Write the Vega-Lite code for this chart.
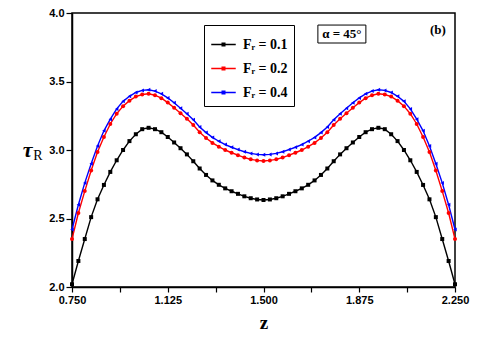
{
  "$schema": "https://vega.github.io/schema/vega-lite/v6.json",
  "width": 383,
  "height": 274,
  "autosize": "none",
  "padding": {"left": 72, "top": 13, "right": 25, "bottom": 54},
  "background": "white",
  "config": {
    "view": {"stroke": "black", "strokeWidth": 1.5},
    "axis": {"grid": false, "domainColor": "black", "domainWidth": 1.5, "tickColor": "black", "tickWidth": 1.2,
      "labelFont": "Liberation Sans", "labelFontWeight": "bold", "labelFontSize": 11, "labelColor": "black",
      "labelFlush": false, "labelOverlap": false}
  },
  "datasets": {
    "curves": [
      {"z": 0.75, "a": 2.02, "b": 2.35, "c": 2.42},
      {"z": 0.775, "a": 2.19, "b": 2.54, "c": 2.60},
      {"z": 0.8, "a": 2.35, "b": 2.70, "c": 2.76},
      {"z": 0.825, "a": 2.51, "b": 2.85, "c": 2.90},
      {"z": 0.85, "a": 2.64, "b": 2.985, "c": 3.03},
      {"z": 0.875, "a": 2.745, "b": 3.095, "c": 3.14},
      {"z": 0.9, "a": 2.84, "b": 3.19, "c": 3.225},
      {"z": 0.925, "a": 2.925, "b": 3.265, "c": 3.30},
      {"z": 0.95, "a": 3.00, "b": 3.32, "c": 3.355},
      {"z": 0.975, "a": 3.065, "b": 3.36, "c": 3.392},
      {"z": 1.0, "a": 3.115, "b": 3.39, "c": 3.42},
      {"z": 1.025, "a": 3.152, "b": 3.405, "c": 3.435},
      {"z": 1.05, "a": 3.162, "b": 3.41, "c": 3.44},
      {"z": 1.075, "a": 3.152, "b": 3.40, "c": 3.43},
      {"z": 1.1, "a": 3.13, "b": 3.378, "c": 3.41},
      {"z": 1.125, "a": 3.095, "b": 3.346, "c": 3.38},
      {"z": 1.15, "a": 3.055, "b": 3.308, "c": 3.345},
      {"z": 1.175, "a": 3.013, "b": 3.268, "c": 3.305},
      {"z": 1.2, "a": 2.968, "b": 3.228, "c": 3.265},
      {"z": 1.225, "a": 2.918, "b": 3.183, "c": 3.22},
      {"z": 1.25, "a": 2.865, "b": 3.13, "c": 3.168},
      {"z": 1.275, "a": 2.818, "b": 3.088, "c": 3.127},
      {"z": 1.3, "a": 2.778, "b": 3.052, "c": 3.092},
      {"z": 1.325, "a": 2.746, "b": 3.024, "c": 3.064},
      {"z": 1.35, "a": 2.72, "b": 3.0, "c": 3.04},
      {"z": 1.375, "a": 2.699, "b": 2.98, "c": 3.02},
      {"z": 1.4, "a": 2.68, "b": 2.962, "c": 3.003},
      {"z": 1.425, "a": 2.662, "b": 2.945, "c": 2.987},
      {"z": 1.45, "a": 2.648, "b": 2.932, "c": 2.975},
      {"z": 1.475, "a": 2.639, "b": 2.924, "c": 2.968},
      {"z": 1.5, "a": 2.635, "b": 2.92, "c": 2.965},
      {"z": 1.525, "a": 2.639, "b": 2.924, "c": 2.968},
      {"z": 1.55, "a": 2.648, "b": 2.932, "c": 2.975},
      {"z": 1.575, "a": 2.662, "b": 2.945, "c": 2.987},
      {"z": 1.6, "a": 2.68, "b": 2.962, "c": 3.003},
      {"z": 1.625, "a": 2.699, "b": 2.98, "c": 3.02},
      {"z": 1.65, "a": 2.72, "b": 3.0, "c": 3.04},
      {"z": 1.675, "a": 2.746, "b": 3.024, "c": 3.064},
      {"z": 1.7, "a": 2.778, "b": 3.052, "c": 3.092},
      {"z": 1.725, "a": 2.818, "b": 3.088, "c": 3.127},
      {"z": 1.75, "a": 2.865, "b": 3.13, "c": 3.168},
      {"z": 1.775, "a": 2.918, "b": 3.183, "c": 3.22},
      {"z": 1.8, "a": 2.968, "b": 3.228, "c": 3.265},
      {"z": 1.825, "a": 3.013, "b": 3.268, "c": 3.305},
      {"z": 1.85, "a": 3.055, "b": 3.308, "c": 3.345},
      {"z": 1.875, "a": 3.095, "b": 3.346, "c": 3.38},
      {"z": 1.9, "a": 3.13, "b": 3.378, "c": 3.41},
      {"z": 1.925, "a": 3.152, "b": 3.40, "c": 3.43},
      {"z": 1.95, "a": 3.162, "b": 3.41, "c": 3.44},
      {"z": 1.975, "a": 3.152, "b": 3.405, "c": 3.435},
      {"z": 2.0, "a": 3.115, "b": 3.39, "c": 3.42},
      {"z": 2.025, "a": 3.065, "b": 3.36, "c": 3.392},
      {"z": 2.05, "a": 3.00, "b": 3.32, "c": 3.355},
      {"z": 2.075, "a": 2.925, "b": 3.265, "c": 3.30},
      {"z": 2.1, "a": 2.84, "b": 3.19, "c": 3.225},
      {"z": 2.125, "a": 2.745, "b": 3.095, "c": 3.14},
      {"z": 2.15, "a": 2.64, "b": 2.985, "c": 3.03},
      {"z": 2.175, "a": 2.51, "b": 2.85, "c": 2.90},
      {"z": 2.2, "a": 2.35, "b": 2.70, "c": 2.76},
      {"z": 2.225, "a": 2.19, "b": 2.54, "c": 2.60},
      {"z": 2.25, "a": 2.02, "b": 2.35, "c": 2.42}
    ]
  },
  "layer": [
    {
      "data": {"name": "curves"},
      "transform": [{"fold": ["a", "b", "c"], "as": ["series", "tau"]}],
      "encoding": {
        "x": {"field": "z", "type": "quantitative",
          "scale": {"domain": [0.75, 2.25], "nice": false, "zero": false},
          "axis": {"title": "z", "titleFont": "Liberation Serif", "titleFontWeight": "bold", "titleFontSize": 19, "titleColor": "black", "titlePadding": 8,
            "values": [0.75, 0.9375, 1.125, 1.3125, 1.5, 1.6875, 1.875, 2.0625, 2.25],
            "labelExpr": "datum.value % 0.375 === 0 ? format(datum.value, '.3f') : ''",
            "tickSize": 5,
            "labelPadding": 2}},
        "y": {"field": "tau", "type": "quantitative",
          "scale": {"domain": [2, 4], "nice": false, "zero": false},
          "axis": {"title": "τ", "titleAngle": 0, "titleX": -45, "titleY": 136, "titleAlign": "center", "titleBaseline": "middle",
            "titleFont": "Liberation Serif", "titleFontStyle": "italic", "titleFontWeight": "bold", "titleFontSize": 22, "titleColor": "black",
            "values": [2, 2.25, 2.5, 2.75, 3, 3.25, 3.5, 3.75, 4],
            "labelExpr": "datum.value % 0.5 === 0 ? format(datum.value, '.1f') : ''",
            "tickSize": 6,
            "labelPadding": 2}}
      },
      "layer": [
        {"mark": {"type": "line", "strokeWidth": 1.4},
          "encoding": {
            "stroke": {"field": "series", "type": "nominal",
              "scale": {"domain": ["a", "b", "c", "d"], "range": ["#000000", "#ff0000", "#0000ff", "#000000"]},
              "legend": {"values": ["a", "b", "c"], "orient": "none", "legendX": 132, "legendY": 12, "title": null, "direction": "vertical",
                "fillColor": "white", "strokeColor": "black", "padding": 6, "rowPadding": 3,
                "labelFont": "Liberation Serif", "labelFontWeight": "bold", "labelFontSize": 14, "labelColor": "black", "labelOffset": 6,
                "symbolSize": 600, "symbolStrokeWidth": 1.6,
                "symbolType": "M-1,0H1M-0.1,-0.1H0.1V0.1H-0.1Z",
                "labelExpr": "datum.label === 'a' ? 'Fᵣ = 0.1' : datum.label === 'b' ? 'Fᵣ = 0.2' : 'Fᵣ = 0.4'"}}}},
        {"mark": {"type": "point", "filled": true, "size": 16, "opacity": 1},
          "encoding": {
            "color": {"field": "series", "type": "nominal",
              "scale": {"domain": ["a", "b", "c"], "range": ["#000000", "#ff0000", "#0000ff"]},
              "legend": null},
            "shape": {"field": "series", "type": "nominal",
              "scale": {"domain": ["a", "b", "c"], "range": ["square", "circle", "triangle-left"]}, "legend": null}}}
      ]
    },
    {
      "data": {"values": [{}]},
      "mark": {"type": "rect", "fill": "white", "stroke": "black", "strokeWidth": 1},
      "encoding": {
        "x": {"datum": 1.713, "type": "quantitative"},
        "x2": {"datum": 1.901},
        "y": {"datum": 3.912, "type": "quantitative"},
        "y2": {"datum": 3.781}
      }
    },
    {
      "data": {"values": [{}]},
      "mark": {"type": "text", "font": "Liberation Serif", "fontSize": 13, "fontWeight": "bold", "color": "black", "align": "center", "baseline": "middle"},
      "encoding": {
        "x": {"datum": 1.807, "type": "quantitative"},
        "y": {"datum": 3.847, "type": "quantitative"},
        "text": {"value": "α = 45°"}
      }
    },
    {
      "data": {"values": [{}]},
      "mark": {"type": "text", "font": "Liberation Serif", "fontSize": 13, "fontWeight": "bold", "color": "black", "align": "center", "baseline": "middle"},
      "encoding": {
        "x": {"datum": 2.183, "type": "quantitative"},
        "y": {"datum": 3.876, "type": "quantitative"},
        "text": {"value": "(b)"}
      }
    },
    {
      "data": {"values": [{}]},
      "mark": {"type": "text", "font": "Liberation Serif", "fontSize": 14, "color": "black", "align": "center", "baseline": "middle", "dx": -34},
      "encoding": {
        "x": {"datum": 0.75, "type": "quantitative"},
        "y": {"datum": 2.955, "type": "quantitative"},
        "text": {"value": "R"}
      }
    }
  ]
}
